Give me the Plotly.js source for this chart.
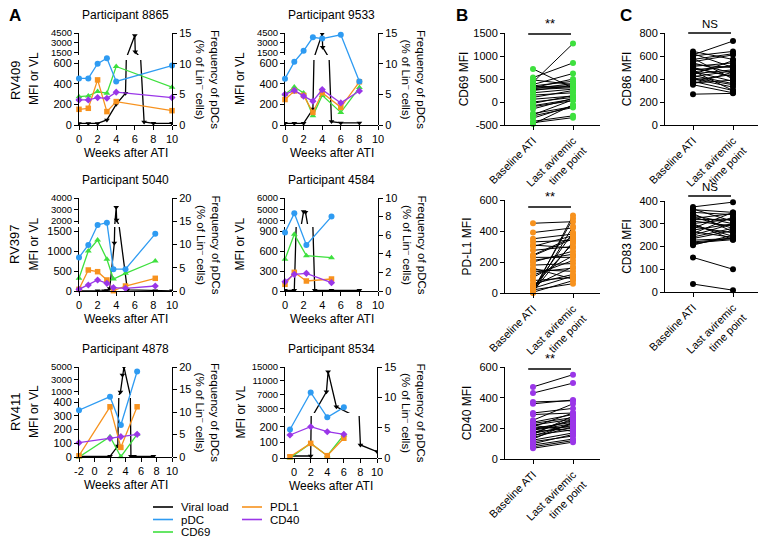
<!DOCTYPE html>
<html>
<head>
<meta charset="utf-8">
<script src="https://cdn.plot.ly/plotly-3.0.1.min.js"></script>
<style>
  html, body { margin: 0; padding: 0; background: #fff; }
  #grafico { width: 764px; height: 546px; }
</style>
</head>
<body>
<div id="grafico"></div>
<script>
// ===== Dados: painel A (semanas após ATI) =====
const semanas8865 = [0, 1, 2, 3, 4, 10];
const pdc8865 = [7.6, 7.6, 10.0, 10.9, 7.1, 9.7];
const cd69_8865 = [275, 282, 324, 308, 567, 366];
const pdl1_8865 = [152, 162, 437, 130, 227, 139];
const cd40_8865 = [243, 243, 266, 259, 318, 266];
const semanasVL8865 = [0, 1, 2, 3, 4, 5, 6, 6.05, 7, 8, 10];
const vl8865 = [15, 15, 15, 49, 200, 308, 4100, 1600, 30, 16, 16];

const semanas9533 = [0, 1, 2, 3, 4, 6, 8];
const pdc9533 = [7.55, 10.3, 12.1, 14.3, 14.1, 14.7, 7.1];
const cd69_9533 = [297, 369, 310, 89, 287, 122, 363];
const pdl1_9533 = [247, 330, 287, 122, 313, 171, 419];
const cd40_9533 = [297, 336, 280, 231, 343, 214, 330];
const semanasVL9533 = [0, 1, 2, 3, 4, 4.05, 5, 6, 8];
const vl9533 = [16, 16, 16, 155, 4400, 2300, 33, 20, 20];

const semanas5040 = [0, 1, 2, 3, 3.7, 5, 8.2];
const pdc5040 = [7.2, 9.9, 14.2, 14.7, 4.7, 4.7, 12.3];
const cd69_5040 = [317, 1000, 1275, 792, 300, 442, 750];
const pdl1_5040 = [42, 525, 483, 275, 8, 125, 317];
const cd40_5040 = [42, 150, 275, 192, 83, 67, 125];
const semanasVL5040 = [0, 2, 2.7, 3, 3.3, 3.8, 4, 4.05, 5.2, 8.2, 10];
const vl5040 = [5, 5, 5, 10, 60, 1200, 3200, 2100, 30, 5, 5];

const semanas4584 = [0, 1, 2.3, 5];
const pdc4584 = [6.3, 8.35, 4.95, 8.0];
const cd69_4584 = [475, 850, 530, 500];
const pdl1_4584 = [100, 280, 150, 180];
const cd40_4584 = [140, 250, 265, 125];
const semanasVL4584 = [0, 1, 2, 2.2, 3.2, 5, 8];
const vl4584 = [10, 10, 4800, 4750, 10, 10, 10];

const semanas4878 = [-2, 2, 3.4, 5.5];
const pdc4878 = [10.4, 13.4, 7.1, 19.0];
const cd69_4878 = [0, 148, 2, 165];
const pdl1_4878 = [9, 366, 70, 366];
const cd40_4878 = [104, 136, 148, 165];
const semanasVL4878 = [-2, 2, 3, 3.35, 3.6, 3.8, 4.7, 5.1, 7.6];
const vl4878 = [5, 5, 80, 1000, 3700, 5000, 5, 5, 5];

const semanas8534 = [-0.5, 2, 4, 6];
const pdc8534 = [4.7, 10.8, 6.7, 8.35];
const cd69_8534 = [0, 94, 15, 148];
const pdl1_8534 = [8, 94, 15, 127];
const cd40_8534 = [148, 201, 169, 152];
const semanasVL8534 = [-0.5, 2, 3.9, 4.1, 5.1, 8, 10];
const vl8534 = [13, 13, 7900, 13650, 3600, 84, 41];

// ticks dos eixos (painel A)
const ticksSemanas = [0, 2, 4, 6, 8, 10];
const ticksSemanas4878 = [-2, 0, 2, 4, 6, 8, 10];
const ticksInf600 = [0, 200, 400, 600];
const ticksSup4500 = [1500, 3000, 4500];
const ticksInf5040 = [0, 500, 1000, 1500];
const ticksSup5040 = [2000, 3000, 4000];
const ticksInf4584 = [0, 300, 600, 900];
const ticksSup4584 = [4000, 5000, 6000];
const ticksInf4878 = [0, 100, 200, 300, 400];
const ticksSup4878 = [1000, 3000, 5000];
const ticksInf8534 = [0, 100, 200];
const ticksSup8534 = [3000, 7000, 11000, 15000];
const ticksPdc15 = [0, 5, 10, 15];
const ticksPdc20 = [0, 5, 10, 15, 20];
const ticksPdc10 = [0, 2, 4, 6, 8, 10];

// ===== Dados: painéis B e C (pareados) =====
const categorias = ["Baseline ATI", "Last aviremic<br>time point"];

const cd69Base = [720, 530, 480, 430, 380, 350, 330, 310, 300, 290, 270, 250, 200, 150, 100, 60, 0, -30, -80, -100, -150, -250, -280, -300, -350, -420, -450, -480];
const cd69Last = [300, 850, 380, 1270, 620, 450, 350, 500, 330, 400, 310, 360, 280, 200, 250, 130, 100, 140, 60, 30, 80, -100, 50, -120, -80, -300, -340, -60];

const pdl1Base = [450, 390, 350, 330, 310, 275, 245, 230, 210, 200, 180, 150, 135, 115, 80, 60, 40, 28, 17, 10, 5, 0, 5, 20, 30, 45, 240, 300, 100, 160];
const pdl1Last = [460, 420, 380, 340, 290, 300, 360, 230, 250, 270, 190, 140, 160, 210, 100, 120, 320, 390, 480, 330, 500, 430, 80, 60, 110, 170, 350, 370, 240, 90];

const cd40Base = [470, 430, 372, 360, 300, 290, 253, 232, 221, 210, 200, 188, 178, 167, 156, 140, 123, 113, 91, 70, 220, 190, 160, 130, 100, 80, 200, 170, 240, 150];
const cd40Last = [550, 495, 380, 385, 330, 300, 360, 270, 260, 300, 240, 230, 200, 220, 190, 210, 170, 150, 130, 110, 180, 250, 280, 240, 160, 120, 210, 260, 290, 230];

const cd86Base = [640, 610, 600, 570, 540, 525, 510, 495, 480, 465, 445, 420, 400, 380, 365, 350, 268, 500, 460, 430, 390, 550, 620, 470, 410, 360, 580, 440];
const cd86Last = [570, 730, 640, 620, 450, 500, 540, 420, 510, 380, 480, 470, 330, 300, 390, 280, 275, 420, 520, 360, 440, 610, 500, 300, 350, 460, 400, 560];

const cd83Base = [374, 362, 350, 337, 323, 312, 301, 286, 272, 257, 242, 228, 216, 206, 152, 35, 365, 345, 330, 295, 280, 265, 250, 235, 220, 300, 318, 210];
const cd83Last = [395, 350, 340, 300, 345, 290, 320, 260, 300, 330, 280, 235, 230, 250, 100, 8, 310, 265, 280, 245, 350, 240, 300, 270, 235, 230, 320, 240];

const ticksCD69 = [-500, 0, 500, 1000, 1500];
const ticks600 = [0, 200, 400, 600];
const ticks800 = [0, 200, 400, 600, 800];
const ticks400 = [0, 100, 200, 300, 400];

// ===== Estilo =====
const cores = {
  VL: "#000000",
  pDC: "#2e9bf2",
  CD69: "#3ee03e",
  PDL1: "#f7921e",
  CD40: "#9a36e8",
};
const FONTE = "Liberation Sans, Arial, Helvetica, sans-serif";

const W = 764, H = 546;
const fx = px => px / W;
const fy = py => 1 - py / H;
const domX = (a, b) => [fx(a), fx(b)];
const domY = (topo, base) => [fy(base), fy(topo)];
const sufixo = n => (n === 1 ? "" : String(n));

function eixo(extra) {
  return Object.assign({
    showline: true, linecolor: "#000", linewidth: 1,
    ticks: "outside", ticklen: 4, tickwidth: 1, tickcolor: "#000",
    showgrid: false, zeroline: false, fixedrange: true,
    tickfont: { size: 11, color: "#000", family: FONTE },
  }, extra);
}

function texto(t, px, py, extra) {
  return Object.assign({
    text: t, x: fx(px), y: fy(py), xref: "paper", yref: "paper",
    xanchor: "center", yanchor: "middle", showarrow: false,
    font: { size: 12, color: "#000", family: FONTE },
  }, extra);
}

// ===== Configuração dos subgráficos do painel A =====
const paineis = [
  { nome: "8865", sem: semanas8865, pdc: pdc8865, cd69: cd69_8865, pdl1: pdl1_8865, cd40: cd40_8865, semVL: semanasVL8865, vl: vl8865,
    x: [79, 172], sup: [33, 55], inf: [60, 125], xr: [0, 10], infR: [0, 630], supR: [1100, 4500], dirR: [0, 15],
    tX: ticksSemanas, tInf: ticksInf600, tSup: ticksSup4500, tDir: ticksPdc15 },
  { nome: "9533", sem: semanas9533, pdc: pdc9533, cd69: cd69_9533, pdl1: pdl1_9533, cd40: cd40_9533, semVL: semanasVL9533, vl: vl9533,
    x: [285, 378], sup: [33, 55], inf: [60, 125], xr: [0, 10], infR: [0, 630], supR: [1100, 4500], dirR: [0, 15],
    tX: ticksSemanas, tInf: ticksInf600, tSup: ticksSup4500, tDir: ticksPdc15 },
  { nome: "5040", sem: semanas5040, pdc: pdc5040, cd69: cd69_5040, pdl1: pdl1_5040, cd40: cd40_5040, semVL: semanasVL5040, vl: vl5040,
    x: [79, 172], sup: [198, 224], inf: [227, 291], xr: [0, 10], infR: [0, 1600], supR: [1750, 4000], dirR: [0, 20],
    tX: ticksSemanas, tInf: ticksInf5040, tSup: ticksSup5040, tDir: ticksPdc20 },
  { nome: "4584", sem: semanas4584, pdc: pdc4584, cd69: cd69_4584, pdl1: pdl1_4584, cd40: cd40_4584, semVL: semanasVL4584, vl: vl4584,
    x: [285, 378], sup: [198, 224], inf: [227, 291], xr: [0, 10], infR: [0, 960], supR: [3700, 6000], dirR: [0, 10],
    tX: ticksSemanas, tInf: ticksInf4584, tSup: ticksSup4584, tDir: ticksPdc10 },
  { nome: "4878", sem: semanas4878, pdc: pdc4878, cd69: cd69_4878, pdl1: pdl1_4878, cd40: cd40_4878, semVL: semanasVL4878, vl: vl4878,
    x: [79, 172], sup: [367, 395], inf: [398, 457], xr: [-2, 10], infR: [0, 430], supR: [500, 5000], dirR: [0, 20],
    tX: ticksSemanas4878, tInf: ticksInf4878, tSup: ticksSup4878, tDir: ticksPdc20 },
  { nome: "8534", sem: semanas8534, pdc: pdc8534, cd69: cd69_8534, pdl1: pdl1_8534, cd40: cd40_8534, semVL: semanasVL8534, vl: vl8534,
    x: [285, 377], sup: [367, 413], inf: [416, 458], xr: [-1.1, 10], infR: [0, 270], supR: [1800, 15000], dirR: [0, 15],
    tX: ticksSemanas, tInf: ticksInf8534, tSup: ticksSup8534, tDir: ticksPdc15 },
];

const layout = {
  width: W, height: H,
  margin: { l: 0, r: 0, t: 0, b: 0 },
  paper_bgcolor: "#fff", plot_bgcolor: "rgba(0,0,0,0)",
  showlegend: false,
  font: { family: FONTE, size: 11, color: "#000" },
  annotations: [], shapes: [],
};
const data = [];

let nx = 0, ny = 0;
paineis.forEach(p => {
  nx++;
  const xId = "x" + sufixo(nx);
  const iInf = ++ny, iSup = ++ny, iDir = ++ny;
  const yInf = "y" + sufixo(iInf), ySup = "y" + sufixo(iSup), yDir = "y" + sufixo(iDir);

  layout["xaxis" + sufixo(nx)] = eixo({
    domain: domX(p.x[0], p.x[1]), anchor: yInf, range: p.xr,
    tickvals: p.tX, ticktext: p.tX.map(String),
  });
  layout["yaxis" + sufixo(iInf)] = eixo({
    domain: domY(p.inf[0], p.inf[1]), anchor: xId, range: p.infR,
    tickvals: p.tInf, ticktext: p.tInf.map(String),
  });
  // segmento superior do eixo quebrado: rótulos mais compactos
  layout["yaxis" + sufixo(iSup)] = eixo({
    domain: domY(p.sup[0], p.sup[1]), anchor: xId, range: p.supR,
    tickvals: p.tSup, ticktext: p.tSup.map(String),
    tickfont: { size: 9.5, color: "#000", family: FONTE },
  });
  layout["yaxis" + sufixo(iDir)] = eixo({
    domain: domY(p.sup[0], p.inf[1]), anchor: xId, side: "right", range: p.dirR,
    tickvals: p.tDir, ticktext: p.tDir.map(String),
  });

  // carga viral nos dois segmentos do eixo quebrado
  [yInf, ySup].forEach(ya => {
    data.push({
      x: p.semVL, y: p.vl, xaxis: xId, yaxis: ya, type: "scatter", mode: "lines+markers",
      line: { color: cores.VL, width: 1.3 },
      marker: { symbol: "triangle-down", size: 5, color: cores.VL },
      cliponaxis: true, hoverinfo: "skip",
    });
  });
  [["CD69", p.cd69, "triangle-up", 6], ["PDL1", p.pdl1, "square", 5.5], ["CD40", p.cd40, "diamond", 5.5]].forEach(([k, ys, simb, tam]) => {
    data.push({
      x: p.sem, y: ys, xaxis: xId, yaxis: yInf, type: "scatter", mode: "lines+markers", name: k,
      line: { color: cores[k], width: 1.3 },
      marker: { symbol: simb, size: tam, color: cores[k] },
      cliponaxis: false, hoverinfo: "skip",
    });
  });
  data.push({
    x: p.sem, y: p.pdc, xaxis: xId, yaxis: yDir, type: "scatter", mode: "lines+markers", name: "pDC",
    line: { color: cores.pDC, width: 1.3 },
    marker: { symbol: "circle", size: 6, color: cores.pDC },
    cliponaxis: false, hoverinfo: "skip",
  });

  // título do participante e rótulos dos eixos
  const cx = (p.x[0] + p.x[1]) / 2;
  const meioY = (p.sup[0] + p.inf[1]) / 2;
  layout.annotations.push(texto("Participant " + p.nome, cx, p.sup[0] - 18));
  layout.annotations.push(texto("Weeks after ATI", cx, p.inf[1] + 28));
  layout.annotations.push(texto("MFI or VL", p.x[0] - 45, meioY, { textangle: -90 }));
  layout.annotations.push(texto("Frequency of pDCs<br>(% of Lin<sup>–</sup> cells)", p.x[1] + 36, meioY,
    { textangle: 90, font: { size: 11.5, color: "#000", family: FONTE } }));
});

// rótulos das linhas e letra do painel
[["RV409", 80], ["RV397", 244], ["RV411", 412]].forEach(([t, py]) => {
  layout.annotations.push(texto(t, 15, py, { textangle: -90, font: { size: 13, color: "#000", family: FONTE } }));
});
[["A", 15, 15], ["B", 462, 15], ["C", 626, 15]].forEach(([t, px, py]) => {
  layout.annotations.push(texto("<b>" + t + "</b>", px, py, { font: { size: 17, color: "#000", family: FONTE } }));
});

// ===== Painéis B e C =====
const pareados = [
  { base: cd69Base, last: cd69Last, titulo: "CD69 MFI", cor: cores.CD69, x: [505, 600], y: [33, 125], r: [-500, 1500], t: ticksCD69, sig: "**", sigY: 34 },
  { base: pdl1Base, last: pdl1Last, titulo: "PD-L1 MFI", cor: cores.PDL1, x: [505, 600], y: [200, 293], r: [0, 600], t: ticks600, sig: "**", sigY: 207 },
  { base: cd40Base, last: cd40Last, titulo: "CD40 MFI", cor: cores.CD40, x: [505, 600], y: [367, 459], r: [0, 600], t: ticks600, sig: "**", sigY: 369 },
  { base: cd86Base, last: cd86Last, titulo: "CD86 MFI", cor: "#000", x: [665, 758], y: [33, 125], r: [0, 800], t: ticks800, sig: "NS", sigY: 33 },
  { base: cd83Base, last: cd83Last, titulo: "CD83 MFI", cor: "#000", x: [665, 758], y: [201, 292], r: [0, 400], t: ticks400, sig: "NS", sigY: 196 },
];

pareados.forEach(p => {
  nx++;
  const iy = ++ny;
  const xId = "x" + sufixo(nx), yId = "y" + sufixo(iy);
  const fim = p.x[0] === 505 ? 1.675 : 1.625;
  layout["xaxis" + sufixo(nx)] = eixo({
    domain: domX(p.x[0], p.x[1]), anchor: yId, type: "category",
    categoryorder: "array", categoryarray: categorias, range: [-0.7, fim],
    tickangle: -45,
  });
  layout["yaxis" + sufixo(iy)] = eixo({
    domain: domY(p.y[0], p.y[1]), anchor: xId, range: p.r,
    tickvals: p.t, ticktext: p.t.map(String),
    title: { text: p.titulo, font: { size: 12, family: FONTE } },
  });

  const xs = [], ys = [];
  p.base.forEach((b, i) => {
    xs.push(categorias[0], categorias[1], null);
    ys.push(b, p.last[i], null);
  });
  data.push({
    x: xs, y: ys, xaxis: xId, yaxis: yId, type: "scatter", mode: "lines+markers",
    line: { color: "#000", width: 1 },
    marker: { symbol: "circle", size: 6, color: p.cor },
    connectgaps: false, cliponaxis: false, hoverinfo: "skip",
  });

  layout.shapes.push({
    type: "line", xref: xId, yref: "paper", x0: -0.12, x1: 0.95,
    y0: fy(p.sigY), y1: fy(p.sigY), line: { color: "#000", width: 1.3 },
  });
  layout.annotations.push({
    text: p.sig, xref: xId, yref: "paper", x: 0.42, y: fy(p.sigY - 1),
    xanchor: "center", yanchor: "bottom", showarrow: false,
    font: { size: p.sig === "**" ? 13 : 11.5, color: "#000", family: FONTE },
  });
});

// ===== Legenda =====
const legendaNomes = ["Viral load", "pDC", "CD69", "PDL1", "CD40"];
const legendaCores = [cores.VL, cores.pDC, cores.CD69, cores.PDL1, cores.CD40];
legendaNomes.forEach((nome, i) => {
  const col = i < 3 ? 0 : 1;
  const lin = i < 3 ? i : i - 3;
  const x0 = col === 0 ? 153 : 242;
  const py = 507 + lin * 12.5;
  layout.shapes.push({
    type: "line", xref: "paper", yref: "paper",
    x0: fx(x0), x1: fx(x0 + 20), y0: fy(py), y1: fy(py),
    line: { color: legendaCores[i], width: 1.6 },
  });
  layout.annotations.push(texto(nome, x0 + 26, py, { xanchor: "left", font: { size: 11.5, color: "#000", family: FONTE } }));
});

Plotly.newPlot("grafico", data, layout, { displayModeBar: false, staticPlot: true });
</script>
</body>
</html>
